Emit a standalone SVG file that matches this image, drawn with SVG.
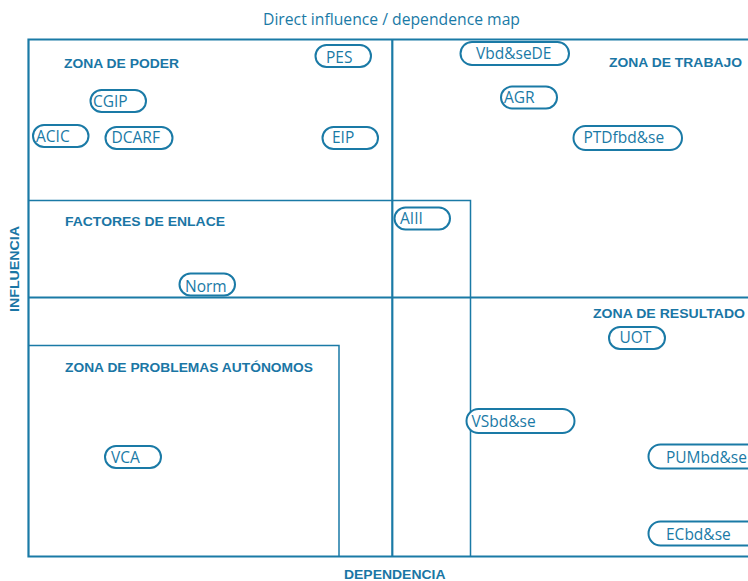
<svg xmlns="http://www.w3.org/2000/svg" width="748" height="581" viewBox="0 0 748 581">
<style>
.frame{fill:none;stroke:#1a7aa6;stroke-width:2.2}
.thin{fill:none;stroke:#1a7aa6;stroke-width:1.5}
.pill rect{fill:#fff;stroke:#1a7aa6;stroke-width:2}
.pill text{font-family:"Open Sans","Noto Sans",sans-serif;font-size:15.5px;fill:#1a7aa6}
.zone{font-family:"Liberation Sans",Arial,sans-serif;font-weight:bold;font-size:13px;fill:#1a76a5}
.title{font-family:"Open Sans","Noto Sans",sans-serif;font-size:15.5px;fill:#1a7aa6}
</style>
<rect width="748" height="581" fill="#fff"/>
<text class="title" x="263" y="25" textLength="257" lengthAdjust="spacingAndGlyphs">Direct influence / dependence map</text>
<g id="grid">
<path class="frame" d="M760,39.5 H28.5 V556.5 H760"/>
<path class="frame" d="M392.3,39.5 V556.5"/>
<path class="frame" d="M28.5,297.5 H760" stroke-width="2.8"/>
<path class="thin" d="M28.5,200.5 H470.5 V556.5"/>
<path class="thin" d="M28.5,345.5 H339 V556.5"/>
</g>
<g id="labels">
<text class="zone" x="64" y="67.5" textLength="115" lengthAdjust="spacingAndGlyphs">ZONA DE PODER</text>
<text class="zone" x="609" y="67" textLength="133" lengthAdjust="spacingAndGlyphs">ZONA DE TRABAJO</text>
<text class="zone" x="65" y="226" textLength="160" lengthAdjust="spacingAndGlyphs">FACTORES DE ENLACE</text>
<text class="zone" x="65" y="371.5" textLength="248" lengthAdjust="spacingAndGlyphs">ZONA DE PROBLEMAS AUTÓNOMOS</text>
<text class="zone" x="593" y="317.5" textLength="152" lengthAdjust="spacingAndGlyphs">ZONA DE RESULTADO</text>
<text class="zone" x="344" y="579" textLength="101.5" lengthAdjust="spacingAndGlyphs">DEPENDENCIA</text>
<text class="zone" transform="translate(19.3,312) rotate(-90)" x="0" y="0" textLength="86" lengthAdjust="spacingAndGlyphs">INFLUENCIA</text>
</g>
<g id="connectors"></g>
<g id="PES" class="pill"><rect x="315.5" y="45" width="55.5" height="22" rx="11"/><text x="326" y="62.5">PES</text></g>
<g id="CGIP" class="pill"><rect x="90.5" y="90" width="55.5" height="22" rx="11"/><text x="93" y="106.7">CGIP</text></g>
<g id="ACIC" class="pill"><rect x="33" y="125" width="55.5" height="22" rx="11"/><text x="36" y="141.7">ACIC</text></g>
<g id="DCARF" class="pill"><rect x="105.5" y="127" width="67" height="22" rx="11"/><text x="111.5" y="143.3">DCARF</text></g>
<g id="EIP" class="pill"><rect x="322.5" y="127" width="55.5" height="22" rx="11"/><text x="332" y="143.3">EIP</text></g>
<g id="VbdseDE" class="pill"><rect x="460.5" y="42" width="108.5" height="23" rx="11.5"/><text x="476" y="58.7">Vbd&amp;seDE</text></g>
<g id="AGR" class="pill"><rect x="501" y="86.5" width="56" height="22" rx="11"/><text x="504" y="102.7">AGR</text></g>
<g id="PTDfbdse" class="pill"><rect x="573.5" y="126" width="108.5" height="24" rx="12"/><text x="583.5" y="143.3">PTDfbd&amp;se</text></g>
<g id="AIII" class="pill"><rect x="394.5" y="207.5" width="55.5" height="22" rx="11"/><text x="400" y="224">AIII</text></g>
<g id="Norm" class="pill"><rect x="179.5" y="273.5" width="55.5" height="22" rx="11"/><text x="185" y="291.7">Norm</text></g>
<g id="UOT" class="pill"><rect x="609" y="327" width="56" height="22" rx="11"/><text x="619.5" y="343.3">UOT</text></g>
<g id="VSbdse" class="pill"><rect x="466.5" y="409" width="108" height="24" rx="12"/><text x="471.5" y="426.7">VSbd&amp;se</text></g>
<g id="PUMbdse" class="pill"><rect x="648.5" y="444.5" width="110" height="24" rx="12"/><text x="666" y="463.3">PUMbd&amp;se</text></g>
<g id="ECbdse" class="pill"><rect x="648.5" y="521.5" width="110" height="24" rx="12"/><text x="666" y="540">ECbd&amp;se</text></g>
<g id="VCA" class="pill"><rect x="105" y="446" width="56" height="22" rx="11"/><text x="111" y="463.3">VCA</text></g>
</svg>
